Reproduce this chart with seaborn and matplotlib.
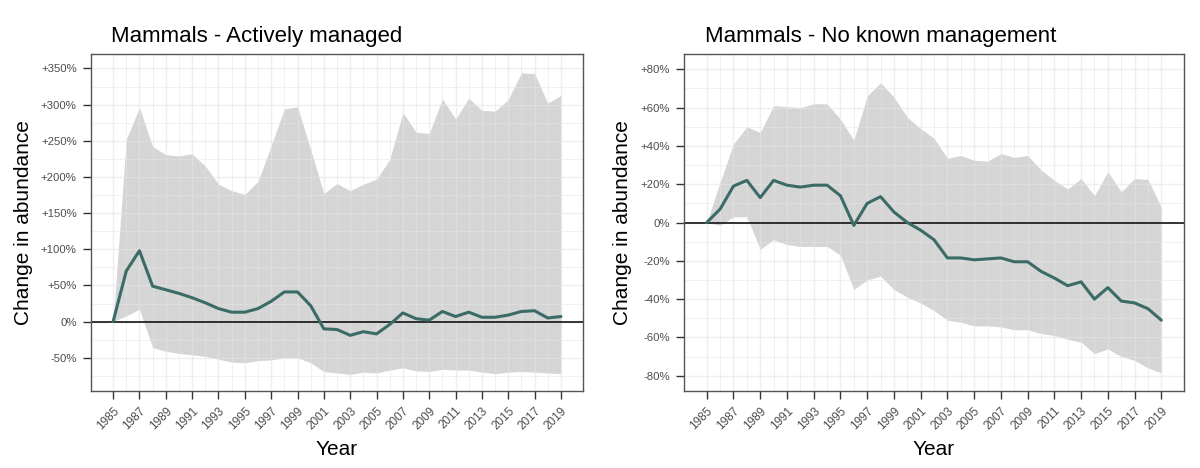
import pandas as pd
import seaborn as sns
import matplotlib.pyplot as plt
from matplotlib.ticker import FuncFormatter, MultipleLocator, FixedLocator

# ---------------------
# 1. DATA (% change since 1985)
# ---------------------
years = list(range(1985, 2020))

managed_mean = [0, 70, 98, 49, 44, 39, 33, 26, 18, 13, 13, 18, 28, 41, 41,
                22, -10, -11, -19, -14, -17, -4, 12, 4, 2, 14, 7, 13, 6, 6,
                9, 14, 15, 5, 7]
managed_lower = [0, 8, 17, -36, -41, -44, -46, -48, -52, -56, -57, -54, -53,
                 -50, -50, -57, -69, -71, -73, -70, -71, -67, -64, -68, -69,
                 -66, -67, -67, -70, -72, -70, -69, -70, -71, -72]
managed_upper = [0, 252, 296, 242, 231, 229, 232, 215, 190, 181, 176, 194,
                 243, 294, 297, 238, 177, 191, 181, 190, 197, 224, 289, 262,
                 260, 308, 280, 309, 292, 291, 307, 344, 343, 302, 313]

unmanaged_mean = [0, 7, 19, 22, 13, 22, 19.5, 18.5, 19.5, 19.5, 14, -1.5, 10,
                  13.5, 5.5, 0, -4, -9, -18.5, -18.5, -19.5, -19, -18.5,
                  -20.5, -20.5, -25.5, -29, -33, -31, -40, -34, -41, -42,
                  -45, -51]
unmanaged_lower = [0, -1.5, 3, 3, -14, -9, -11.5, -12.5, -12.5, -12.5, -17,
                   -35, -30, -28, -35, -39, -42, -46, -51, -52, -54, -54,
                   -54.5, -56, -56, -58, -59, -61, -62.5, -68.5, -66, -70,
                   -72, -76, -78.5]
unmanaged_upper = [0, 21, 41, 50, 47, 61, 60.5, 60, 62, 62, 54, 43, 66, 73,
                   65.5, 55, 49, 44, 33.5, 35, 32.5, 32, 36, 34, 35, 27.5, 22,
                   17.5, 23, 14, 26.5, 16, 23, 22.5, 8]

titles = ["Mammals - Actively managed", "Mammals - No known management"]

# ---------------------
# 2. STYLE
# ---------------------
sns.set_theme(style="white")
plt.rcParams['font.family'] = ['Liberation Sans', 'DejaVu Sans']

line_color = "#3b6b66"
ribbon_color = "#d5d5d5"
grid_color = "#e5e5e5"
frame_color = "#555555"
tick_text = "#4d4d4d"


def pct(v, pos):
    v = int(round(v))
    return f"+{v}%" if v > 0 else f"{v}%"


def draw_panel(ax, mean, lower, upper, title, ylim, major, minor):
    df = pd.DataFrame({"Year": years, "mean": mean,
                       "lower": lower, "upper": upper})
    ax.fill_between(df["Year"], df["lower"], df["upper"],
                    color=ribbon_color, lw=0, zorder=1)
    ax.axhline(0, color="black", lw=1.1, zorder=3)
    sns.lineplot(data=df, x="Year", y="mean", ax=ax, color=line_color,
                 lw=2.2, zorder=4)

    ax.set_xlim(1983.3, 2020.7)
    ax.set_ylim(*ylim)
    ax.xaxis.set_major_locator(FixedLocator(list(range(1985, 2020, 2))))
    ax.xaxis.set_minor_locator(FixedLocator(list(range(1986, 2020, 2))))
    ax.yaxis.set_major_locator(MultipleLocator(major))
    ax.yaxis.set_minor_locator(MultipleLocator(minor))
    ax.yaxis.set_major_formatter(FuncFormatter(pct))

    ax.grid(which="major", color=grid_color, lw=1.0, alpha=0.6, zorder=2)
    ax.grid(which="minor", color=grid_color, lw=0.6, alpha=0.6, zorder=2)
    ax.set_axisbelow(False)

    ax.tick_params(axis="both", which="major", length=6, width=1,
                   color="#333333", labelcolor=tick_text,
                   pad=4, left=True, bottom=True)
    ax.tick_params(axis="y", which="major", labelsize=8.2)
    ax.tick_params(axis="x", which="major", labelsize=8.5)
    ax.tick_params(axis="both", which="minor", length=0)
    for lab in ax.get_xticklabels():
        lab.set_rotation(45)
        lab.set_ha("right")
        lab.set_rotation_mode("anchor")

    for sp in ax.spines.values():
        sp.set_color(frame_color)
        sp.set_linewidth(1)
        sp.set_zorder(5)

    ax.set_xlabel("Year", fontsize=15, color="black", labelpad=6)
    ax.set_ylabel("Change in abundance", fontsize=15, color="black",
                  labelpad=6)
    ax.text(0.042, 1.036, title, transform=ax.transAxes, fontsize=16,
            color="black", ha="left", va="baseline")


# ---------------------
# 3. PLOT
# ---------------------
fig = plt.figure(figsize=(12, 4.68), dpi=100)
ax1 = fig.add_axes([0.0756, 0.1645, 0.4105, 0.7201])
ax2 = fig.add_axes([0.57, 0.1645, 0.4167, 0.7201])

draw_panel(ax1, managed_mean, managed_lower, managed_upper, titles[0],
           (-96, 370), 50, 25)
draw_panel(ax2, unmanaged_mean, unmanaged_lower, unmanaged_upper, titles[1],
           (-88, 88), 20, 10)

fig.savefig("out.png", dpi=100)
